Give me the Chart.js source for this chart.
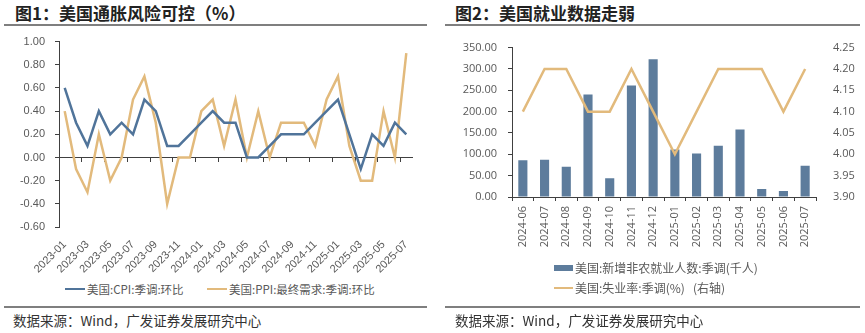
<!DOCTYPE html>
<html lang="zh-CN">
<head>
<meta charset="utf-8">
<script src="https://cdn.jsdelivr.net/npm/chart.js@4.4.1/dist/chart.umd.min.js"></script>
<style>
  body { margin: 0; width: 865px; height: 333px; background: #fff; position: relative; overflow: hidden;
         font-family: "Noto Sans CJK SC", sans-serif; }
  .title { position: absolute; top: 3px; line-height: 20px; font-size: 17px; font-weight: 700; color: #222; }
  .rule { position: absolute; height: 2px; background: #7f7f7f; }
  .src { position: absolute; top: 311px; line-height: 18px; font-size: 13.5px; color: #333; }
  .lg { position: absolute; line-height: 16px; font-size: 11.5px; color: #595959; white-space: nowrap; }
  .sw { position: absolute; }
  canvas { position: absolute; }
</style>
</head>
<body>
<div class="title" style="left:15px">图1：美国通胀风险可控（%）</div>
<div class="rule" style="left:4px; top:24px; width:423px"></div>
<canvas id="c1" width="430" height="255" style="left:0; top:25px"></canvas>
<div class="sw" style="left:65px; top:288px; width:20px; height:2px; background:#50749A"></div>
<div class="lg" style="left:87px; top:281px">美国:CPI:季调:环比</div>
<div class="sw" style="left:207px; top:288px; width:20px; height:2px; background:#E2BA7C"></div>
<div class="lg" style="left:229px; top:281px">美国:PPI:最终需求:季调:环比</div>
<div class="rule" style="left:4px; top:306px; width:423px"></div>
<div class="src" style="left:13px">数据来源：Wind，广发证券发展研究中心</div>

<div class="title" style="left:455px">图2：美国就业数据走弱</div>
<div class="rule" style="left:445px; top:24px; width:415px"></div>
<canvas id="c2" width="435" height="230" style="left:430px; top:30px"></canvas>
<div class="sw" style="left:554px; top:265px; width:19px; height:6px; background:#5D7C9C"></div>
<div class="lg" style="left:575px; top:260px; font-size:12px">美国:新增非农就业人数:季调(千人)</div>
<div class="sw" style="left:554px; top:287px; width:19px; height:2px; background:#E2BA7C"></div>
<div class="lg" style="left:575px; top:280px; font-size:12px">美国:失业率:季调(%)&nbsp;&nbsp;&nbsp;(右轴)</div>
<div class="rule" style="left:445px; top:306px; width:415px"></div>
<div class="src" style="left:455px">数据来源：Wind，广发证券发展研究中心</div>

<script>
'use strict';

// Chart 1: US CPI / PPI month-over-month (%)
const months1 = ['2023-01', '2023-02', '2023-03', '2023-04', '2023-05', '2023-06', '2023-07', '2023-08',
  '2023-09', '2023-10', '2023-11', '2023-12', '2024-01', '2024-02', '2024-03', '2024-04', '2024-05',
  '2024-06', '2024-07', '2024-08', '2024-09', '2024-10', '2024-11', '2024-12', '2025-01', '2025-02',
  '2025-03', '2025-04', '2025-05', '2025-06', '2025-07'];
const cpiMoM = [0.6, 0.3, 0.1, 0.4, 0.2, 0.3, 0.2, 0.5, 0.4, 0.1, 0.1, 0.2, 0.3, 0.4, 0.3, 0.3,
  0.0, 0.0, 0.1, 0.2, 0.2, 0.2, 0.3, 0.4, 0.5, 0.2, -0.1, 0.2, 0.1, 0.3, 0.2];
const ppiMoM = [0.4, -0.1, -0.3, 0.2, -0.2, 0.0, 0.5, 0.7, 0.3, -0.4, 0.0, 0.0, 0.4, 0.5, 0.1, 0.5,
  0.0, 0.4, 0.0, 0.3, 0.3, 0.3, 0.1, 0.5, 0.7, 0.1, -0.2, -0.2, 0.4, 0.0, 0.9];
const yMin1 = -0.6, yMax1 = 1.0, yStep1 = 0.2;

// Chart 2: nonfarm payrolls (thousands) and unemployment rate (%)
const months2 = ['2024-06', '2024-07', '2024-08', '2024-09', '2024-10', '2024-11', '2024-12',
  '2025-01', '2025-02', '2025-03', '2025-04', '2025-05', '2025-06', '2025-07'];
const payrolls = [86, 87, 71, 240, 44, 261, 323, 111, 102, 120, 158, 19, 14, 73];
const jobless = [4.1, 4.2, 4.2, 4.1, 4.1, 4.2, 4.1, 4.0, 4.1, 4.2, 4.2, 4.2, 4.1, 4.2];
const yMin2 = 0, yMax2 = 350, yStep2 = 50;
const rMin2 = 3.9, rMax2 = 4.25, rStep2 = 0.05;

const BLUE = '#50749A';
const TAN = '#E2BA7C';
const BAR = '#5D7C9C';
const AXIS = '#404040';
const TICK = '#595959';
const NONE = 'rgba(0,0,0,0)';

// chart 1
new Chart(document.getElementById('c1'), {
  type: 'line',
  data: {
    labels: months1,
    datasets: [
      { label: '美国:CPI:季调:环比', data: cpiMoM, borderColor: BLUE, borderWidth: 2.5, pointRadius: 0, tension: 0 },
      { label: '美国:PPI:最终需求:季调:环比', data: ppiMoM, borderColor: TAN, borderWidth: 2.5, pointRadius: 0, tension: 0 }
    ]
  },
  options: {
    responsive: false,
    animation: false,
    layout: { padding: { top: 8, right: 18, left: 0, bottom: 0 } },
    plugins: { legend: { display: false }, tooltip: { enabled: false } },
    scales: {
      // axis line through zero, tick marks every two months
      x: {
        type: 'category',
        offset: true,
        position: { y: 0 },
        grid: {
          offset: true,
          drawOnChartArea: false,
          tickLength: 4,
          color: ctx => (ctx.index > 0 && ctx.index % 2 === 0) ? AXIS : NONE
        },
        border: { color: AXIS, width: 1 },
        ticks: { display: false }
      },
      // labels at the bottom
      x2: {
        type: 'category',
        labels: months1,
        offset: true,
        position: 'bottom',
        grid: { display: false },
        border: { display: false },
        ticks: {
          autoSkip: false,
          minRotation: 45,
          maxRotation: 45,
          padding: 3,
          color: TICK,
          font: { family: 'Liberation Sans', size: 11 },
          callback: function(v, i) { return i % 2 === 0 ? this.getLabelForValue(v) : ''; }
        },
        afterFit: s => { s.height = 53; }
      },
      y: {
        min: yMin1,
        max: yMax1,
        ticks: {
          stepSize: yStep1,
          padding: 10,
          color: TICK,
          font: { family: 'Liberation Sans', size: 11 },
          callback: v => v.toFixed(2)
        },
        grid: { drawOnChartArea: false, tickLength: 4, color: AXIS },
        border: { color: AXIS, width: 1 },
        afterFit: s => { s.width = 59; }
      }
    }
  }
});

// chart 2
new Chart(document.getElementById('c2'), {
  type: 'bar',
  data: {
    labels: months2,
    datasets: [
      { type: 'line', label: '美国:失业率:季调(%)', data: jobless, yAxisID: 'y1', borderColor: TAN,
        borderWidth: 2.5, pointRadius: 0, tension: 0, order: 0 },
      { type: 'bar', label: '美国:新增非农就业人数:季调(千人)', data: payrolls, yAxisID: 'y',
        backgroundColor: BAR, barPercentage: 0.42, categoryPercentage: 1, order: 1 }
    ]
  },
  options: {
    responsive: false,
    animation: false,
    layout: { padding: { top: 15, right: 0, left: 0, bottom: 0 } },
    plugins: { legend: { display: false }, tooltip: { enabled: false } },
    scales: {
      x: {
        grid: { offset: true, drawOnChartArea: false, tickLength: 4, color: AXIS },
        border: { color: AXIS, width: 1 },
        ticks: {
          autoSkip: false,
          minRotation: 90,
          maxRotation: 90,
          padding: 5,
          color: TICK,
          font: { family: 'Open Sans', size: 11 }
        },
        afterFit: s => { s.height = 63; }
      },
      y: {
        position: 'left',
        min: yMin2,
        max: yMax2,
        ticks: {
          stepSize: yStep2,
          padding: 11,
          color: TICK,
          font: { family: 'Open Sans', size: 11 },
          callback: v => v.toFixed(2)
        },
        grid: { drawOnChartArea: false, tickLength: 4, color: AXIS },
        border: { color: AXIS, width: 1 },
        afterFit: s => { s.width = 82; }
      },
      y1: {
        position: 'right',
        min: rMin2,
        max: rMax2,
        ticks: {
          stepSize: rStep2,
          padding: 9,
          color: TICK,
          font: { family: 'Open Sans', size: 11 },
          callback: v => v.toFixed(2)
        },
        grid: { display: false },
        border: { display: false },
        afterFit: s => { s.width = 49; }
      }
    }
  }
});
</script>
</body>
</html>
